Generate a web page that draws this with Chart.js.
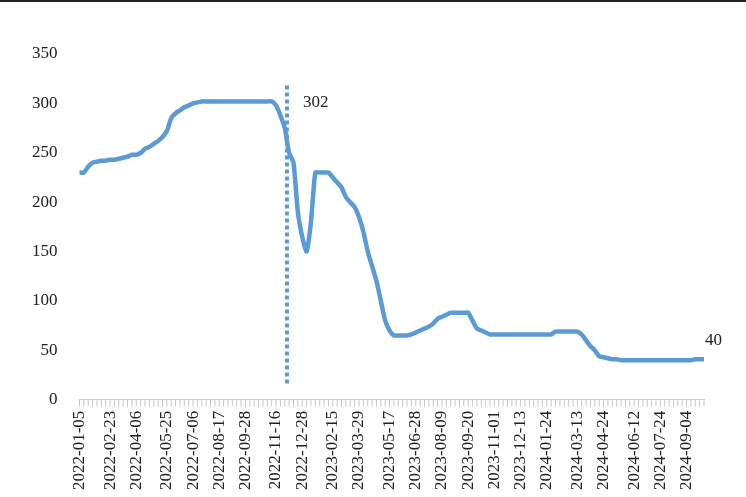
<!DOCTYPE html>
<html><head><meta charset="utf-8">
<script src="https://cdn.jsdelivr.net/npm/chart.js@4"></script>
<style>html,body{margin:0;background:#fff}#wrap{width:746px;height:497px;border-top:2px solid #222;box-sizing:border-box}</style>
</head><body><div id="wrap"><canvas id="c"></canvas></div>
<script>
// weekly values
const values = [
  230,230,236,240,241,242,242,243,243,244,245,246,248,248,250,254,256,259,262,266,
  272,285,290,293,296,298,300,301,302,302,302,302,302,302,302,302,302,302,302,302,
  302,302,302,302,302,298,288,275,250,240,190,165,150,180,230,230,230,230,225,220,
  215,205,200,195,185,170,150,135,120,100,80,70,65,65,65,65,66,68,70,72,
  74,77,82,84,86,88,88,88,88,88,80,72,70,68,66,66,66,66,66,66,
  66,66,66,66,66,66,66,66,66,69,69,69,69,69,69,66,60,54,50,44,
  43,42,41,41,40,40,40,40,40,40,40,40,40,40,40,40,40,40,40,40,
  40,41,41,41
];
const startDate = '2022-01-05';
// tick labels shown on the axis
const tickLabels = ['2022-01-05','2022-02-23','2022-04-06','2022-05-25','2022-07-06','2022-08-17',
  '2022-09-28','2022-11-16','2022-12-28','2023-02-15','2023-03-29','2023-05-17','2023-06-28',
  '2023-08-09','2023-09-20','2023-11-01','2023-12-13','2024-01-24','2024-03-13','2024-04-24',
  '2024-06-12','2024-07-24','2024-09-04'];
const markerIndex = 47.5;   // dotted vertical line
const markerTop = 318;
const peakLabel = '302', lastLabel = '40';

const labels = [];
const d0 = new Date(startDate + 'T00:00:00Z');
for (let i = 0; i < values.length; i++) {
  const d = new Date(d0.getTime() + i * 7 * 864e5);
  labels.push(d.toISOString().slice(0, 10));
}

const extras = {
  id: 'extras',
  afterDatasetsDraw(chart) {
    const {ctx, scales: {x, y}} = chart;
    ctx.save();
    const px = x.getPixelForValue(markerIndex);
    ctx.strokeStyle = '#5b9bd5';
    ctx.lineWidth = 4;
    ctx.setLineDash([4, 3]);
    ctx.beginPath();
    ctx.moveTo(px, y.getPixelForValue(markerTop));
    ctx.lineTo(px, y.getPixelForValue(14));
    ctx.stroke();
    ctx.setLineDash([]);
    ctx.fillStyle = '#222';
    ctx.font = '17px "Liberation Serif"';
    ctx.fillText(peakLabel, px + 16, y.getPixelForValue(302) + 6);
    const lx = x.getPixelForValue(values.length - 1);
    ctx.fillText(lastLabel, lx + 1, y.getPixelForValue(values[values.length - 1]) - 14);
    // dense weekly tick marks under the axis
    ctx.strokeStyle = '#c8c8c8';
    ctx.lineWidth = 1;
    const yb = y.getPixelForValue(0);
    for (let i = 0; i < values.length; i++) {
      const tx = x.getPixelForValue(i);
      ctx.beginPath(); ctx.moveTo(tx, yb); ctx.lineTo(tx, yb + 7); ctx.stroke();
    }
    ctx.restore();
  }
};

new Chart(document.getElementById('c'), {
  type: 'line',
  data: {labels, datasets: [{data: values, borderColor: '#5b9bd5', borderWidth: 4.5, pointRadius: 0, tension: 0.2}]},
  options: {
    responsive: true, maintainAspectRatio: false, animation: false,
    layout: {padding: {top: 52, right: 42, left: 18, bottom: 4}},
    plugins: {legend: {display: false}, tooltip: {enabled: false}},
    scales: {
      x: {
        offset: false,
        grid: {display: false},
        border: {color: '#d0d0d0'},
        ticks: {
          autoSkip: false, maxRotation: 90, minRotation: 90, color: '#222',
          font: {family: 'Liberation Serif', size: 17},
          callback: (v, i) => tickLabels.includes(labels[i]) ? labels[i] : null
        }
      },
      y: {
        min: 0, max: 350,
        grid: {display: false},
        border: {display: false},
        ticks: {stepSize: 50, color: '#222', padding: 14, font: {family: 'Liberation Serif', size: 17}}
      }
    }
  },
  plugins: [extras]
});
</script></body></html>
